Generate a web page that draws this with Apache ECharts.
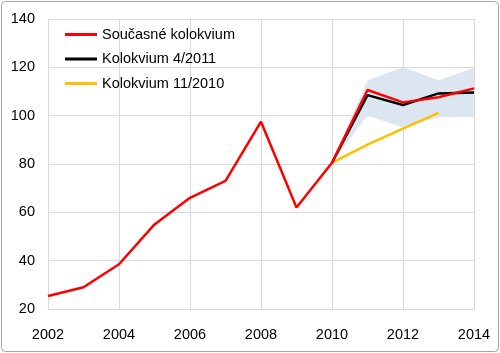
<!DOCTYPE html>
<html><head><meta charset="utf-8">
<script src="https://cdn.jsdelivr.net/npm/echarts@6/dist/echarts.min.js"></script>
<style>html,body{margin:0;padding:0;background:#fff}#c{width:500px;height:353px}</style>
</head><body><div id="c"></div>
<script>
const years = ['2002','2003','2004','2005','2006','2007','2008','2009','2010','2011','2012','2013','2014'];
const current = [25.4,29,38.5,55,66,73,97.5,62,80.5,110.6,105.5,107.6,111.3];
const apr2011 = [null,null,null,null,null,null,null,null,80.5,108.5,104.4,109.2,109.6];
const nov2010 = [null,null,null,null,null,null,null,null,80.5,88,94.6,101.2,null];
const bandLow = [null,null,null,null,null,null,null,null,80.5,100,95.2,99.3,99.5];
const bandHigh = [null,null,null,null,null,null,null,null,80.5,114.7,120,114.7,119.7];
const names = ['Současné kolokvium','Kolokvium 4/2011','Kolokvium 11/2010'];

const font = 'Liberation Sans';
const chart = echarts.init(document.getElementById('c'));
chart.setOption({
  animation:false,
  backgroundColor:'#fff',
  textStyle:{fontFamily:font},
  grid:{left:48,right:26,top:19,bottom:44},
  graphic:[{type:'rect',shape:{x:1.5,y:1.5,width:497,height:350,r:4},style:{fill:null,stroke:'#a6a6a6',lineWidth:1},z:-1}],
  legend:{
    data:names.map(n=>({name:n,icon:'rect'})), orient:'vertical', left:60, top:22, itemGap:9.5,
    itemWidth:32, itemHeight:3,
    textStyle:{fontFamily:font,fontSize:14.5,color:'#000',lineHeight:15,height:15}
  },
  xAxis:{type:'category',data:years,boundaryGap:false,
    axisLine:{show:true,lineStyle:{color:'#d9d9d9'}},axisTick:{show:false},
    splitLine:{show:true,interval:1,lineStyle:{color:'#d9d9d9'}},
    axisLabel:{interval:1,margin:18,fontSize:14.5,color:'#000',fontFamily:font}},
  yAxis:{type:'value',min:20,max:140,interval:20,
    axisLine:{show:true,lineStyle:{color:'#d9d9d9'}},axisTick:{show:false},
    splitLine:{show:true,lineStyle:{color:'#d9d9d9'}},
    axisLabel:{margin:13,fontSize:14.5,color:'#000',fontFamily:font}},
  series:[
    {name:'bandLow',type:'line',stack:'band',data:bandLow,symbol:'none',lineStyle:{width:0,opacity:0},silent:true,z:1},
    {name:'bandRange',type:'line',stack:'band',data:bandHigh.map((h,i)=>h==null?null:h-bandLow[i]),symbol:'none',lineStyle:{width:0,opacity:0},areaStyle:{color:'#dce6f1',opacity:1},silent:true,z:1},
    {name:names[2],type:'line',data:nov2010,symbol:'none',lineStyle:{color:'#ffc000',width:2.5},itemStyle:{color:'#ffc000'},z:2},
    {name:names[1],type:'line',data:apr2011,symbol:'none',lineStyle:{color:'#000000',width:2.5},itemStyle:{color:'#000000'},z:3},
    {name:names[0],type:'line',data:current,symbol:'none',lineStyle:{color:'#ff0000',width:2.5},itemStyle:{color:'#ff0000'},z:4}
  ]
});
</script></body></html>
